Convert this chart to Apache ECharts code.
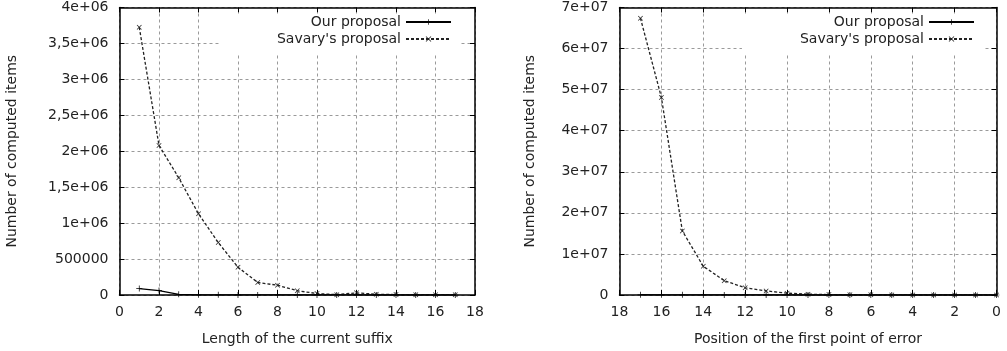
<!DOCTYPE html>
<html><head><meta charset="utf-8">
<script src="https://cdn.jsdelivr.net/npm/echarts@6/dist/echarts.min.js"></script>
<style>html,body{margin:0;padding:0;background:#fff}#c{width:1007px;height:351px}</style>
</head><body><div id="c"></div>
<script>
// Left chart: length of current suffix
const leftX = [1,2,3,4,5,6,7,8,9,10,11,12,13,14,15,16,17];
const leftOur = [90000,62000,10000,3000,2000,1500,1000,800,600,500,400,400,300,300,200,200,200];
const leftSavary = [3725000,2080000,1630000,1130000,730000,386000,174000,136000,60000,20000,5000,30000,10000,6000,5000,5000,4000];
// Right chart: position of first point of error
const rightX = [17,16,15,14,13,12,11,10,9,8,7,6,5,4,3,2,1,0];
const rightOur = [60000,50000,40000,30000,20000,15000,10000,8000,6000,5000,4000,3000,2000,1500,1000,800,500,300];
const rightSavary = [67400000,48100000,15600000,7000000,3500000,1750000,1000000,450000,200000,100000,60000,40000,20000,10000,8000,5000,3000,1000];
const leftYTicks = ['0','500000','1e+06','1,5e+06','2e+06','2,5e+06','3e+06','3,5e+06','4e+06'];
const rightYTicks = ['0','1e+07','2e+07','3e+07','4e+07','5e+07','6e+07','7e+07'];
const names = ['Our proposal', "Savary's proposal"];

const FONT = 'DejaVu Sans, Liberation Sans, Arial, sans-serif';
const plusPath = 'path://M4.4,0H5.6V4.4H10V5.6H5.6V10H4.4V5.6H0V4.4H4.4Z';
const crossPath = 'path://M1,0L5,4L9,0L10,1L6,5L10,9L9,10L5,6L1,10L0,9L4,5L0,1Z';

const chart = echarts.init(document.getElementById('c'), null, {renderer:'canvas'});
const gridLine = {show:true, lineStyle:{color:'#9a9a9a', type:[3,3], width:1}};
const labelStyle = {color:'#222', fontFamily:FONT, fontSize:14};
function xAx(gi, inverse){
  return {type:'value', gridIndex:gi, min:0, max:18, interval:2, inverse:inverse,
    axisLine:{show:true, onZero:false, lineStyle:{color:'#000', width:1.5}},
    axisTick:{show:true, inside:true, length:5, lineStyle:{color:'#000'}},
    axisLabel:Object.assign({margin:10}, labelStyle),
    splitLine:gridLine,
    name: gi===0 ? 'Length of the current suffix' : 'Position of the first point of error',
    nameLocation:'middle', nameGap:37, nameTextStyle:{color:'#222', fontFamily:FONT, fontSize:14}};
}
function xTop(gi, inverse){
  return {type:'value', gridIndex:gi, min:0, max:18, interval:2, inverse:inverse, position:'top',
    axisLine:{show:true, onZero:false, lineStyle:{color:'#000', width:1.5}},
    axisTick:{show:true, inside:true, length:5, lineStyle:{color:'#000'}},
    axisLabel:{show:false}, splitLine:{show:false}};
}
function yAx(gi, max, interval, ticks, gap){
  return {type:'value', gridIndex:gi, min:0, max:max, interval:interval,
    axisLine:{show:true, onZero:false, lineStyle:{color:'#000', width:1.5}},
    axisTick:{show:true, inside:true, length:5, lineStyle:{color:'#000'}},
    axisLabel:Object.assign({margin:11, formatter:(v)=>ticks[Math.round(v/interval)]}, labelStyle),
    splitLine:gridLine,
    name:'Number of computed items', nameLocation:'middle', nameGap:gap, nameRotate:90,
    nameTextStyle:{color:'#222', fontFamily:FONT, fontSize:14}};
}
function yRight(gi, max, interval){
  return {type:'value', gridIndex:gi, min:0, max:max, interval:interval, position:'right',
    axisLine:{show:true, onZero:false, lineStyle:{color:'#000', width:1.5}},
    axisTick:{show:true, inside:true, length:5, lineStyle:{color:'#000'}},
    axisLabel:{show:false}, splitLine:{show:false}};
}
function ser(name, xs, ys, xi, yi){
  const our = name === names[0];
  return {type:'line', name:name, xAxisIndex:xi, yAxisIndex:yi,
    data: xs.map((x,i)=>[x, ys[i]]),
    symbol: our ? plusPath : crossPath, symbolSize: our ? 6 : 5,
    showSymbol:true, z: our ? 3 : 2,
    itemStyle:{color: our ? '#000' : '#222'},
    lineStyle:{color: our ? '#000' : '#222', width: 1.3, type: our ? 'solid' : [3,2]},
    animation:false};
}
function legend(right){
  return {orient:'vertical', right:right, top:14, align:'right', itemWidth:45, itemHeight:7, itemGap:1,
    backgroundColor:'#fff', padding:[0,8,8,58], selectedMode:false,
    textStyle:{color:'#222', fontFamily:FONT, fontSize:14, lineHeight:16}, data:names};
}
chart.setOption({
  animation:false,
  grid:[
    {left:119.5, right:532, top:7.5, bottom:55.5},
    {left:619.5, right:10.5, top:7.5, bottom:55.5}
  ],
  xAxis:[xAx(0,false), xAx(1,true), xTop(0,false), xTop(1,true)],
  yAxis:[yAx(0,4000000,500000,leftYTicks,100), yAx(1,70000000,10000000,rightYTicks,82),
         yRight(0,4000000,500000), yRight(1,70000000,10000000)],
  legend:[legend(1007-460), legend(1007-983)],
  series:[
    ser(names[0], leftX, leftOur, 0, 0),
    ser(names[1], leftX, leftSavary, 0, 0),
    ser(names[0], rightX, rightOur, 1, 1),
    ser(names[1], rightX, rightSavary, 1, 1)
  ]
});
</script></body></html>
